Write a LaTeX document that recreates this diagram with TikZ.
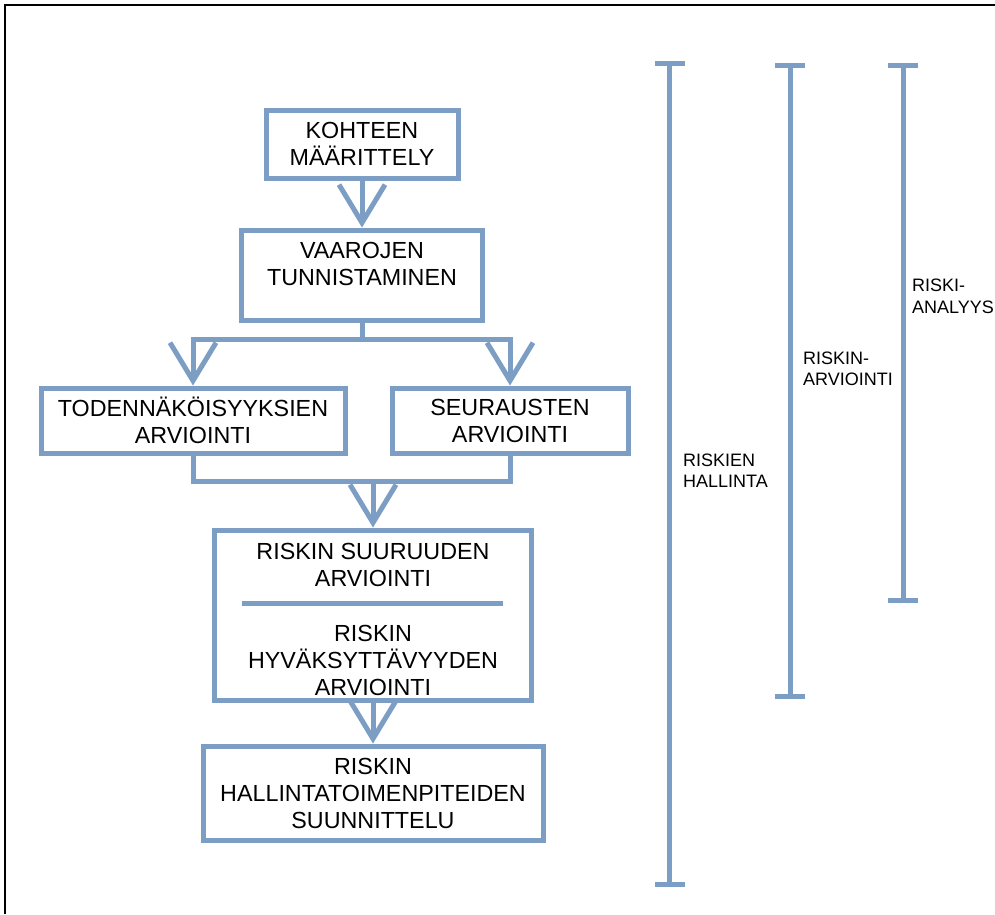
\documentclass[tikz,border=0pt]{standalone}
\usepackage{fontspec}
\setmainfont{Liberation Sans}
\usetikzlibrary{positioning, arrows.meta}
\definecolor{steel}{RGB}{124,157,196}
\tikzset{
  box/.style={
    draw=steel, line width=5pt, inner sep=0pt, align=center,
    font=\fontsize{23.3}{27}\selectfont
  },
  boxtext/.style={inner sep=0pt, align=center, font=\fontsize{23.3}{27}\selectfont},
  flow/.style={draw=steel, line width=5pt},
  arr/.style={flow, -{Straight Barb[length=38pt, width=46pt]}},
  span/.style={draw=steel, line width=5pt, {Bar[width=30pt]}-{Bar[width=30pt]}},
  side/.style={align=left, inner sep=0pt, anchor=west, font=\fontsize{18}{21.5}\selectfont}
}

\begin{document}
\begin{tikzpicture}[x=1pt, y=-1pt]
  \useasboundingbox (0,0) rectangle (995,914);
  % frame
  \draw[line width=2.5pt] (5,914) -- (5,5) -- (995,5);

  % process boxes
  \node[box, minimum width=192, minimum height=68] (target) at (362,144) {KOHTEEN\\MÄÄRITTELY};
  \node[box, minimum width=241, minimum height=90] (hazard) at (362,275) {};
  \node[boxtext] at ([yshift=11]hazard.center) {VAAROJEN\\TUNNISTAMINEN};
  \node[box, minimum width=304, minimum height=65] (prob) at (193,420.5) {TODENNÄKÖISYYKSIEN\\ARVIOINTI};
  \node[box, minimum width=236, minimum height=65] (cons) at (510,420.5) {SEURAUSTEN\\ARVIOINTI};
  \node[box, minimum width=317, minimum height=170] (risk) at (373,615) {};
  \node[boxtext] (size) at ([yshift=50.5]risk.center) {RISKIN SUURUUDEN\\ARVIOINTI};
  \node[boxtext] (accept) at ([yshift=-45]risk.center) {RISKIN\\HYVÄKSYTTÄVYYDEN\\ARVIOINTI};
  \node[box, minimum width=340, minimum height=94] (control) at (373,793) {RISKIN\\HALLINTATOIMENPITEIDEN\\SUUNNITTELU};

  % connectors
  \coordinate (split) at (362,339);
  \coordinate (merge) at (373,481);
  \draw[arr] (target) -- (hazard);
  \draw[flow] (hazard.south) -- (split);
  \draw[arr] (split) -| (prob.north);
  \draw[arr] (split) -| (cons.north);
  \draw[flow] (prob.south) |- (merge) -| (cons.south);
  \draw[arr] (merge) -- (risk.north);
  \draw[flow] (242,603) -- (503,603);
  \draw[arr] (risk) -- (control);

  % spans
  \coordinate (mgmtTop) at (669.5,61);
  \coordinate (mgmtBot) at (669.5,887);
  \coordinate (evalTop) at (790,63);
  \coordinate (evalBot) at (790,699);
  \coordinate (anaTop) at (903,63);
  \coordinate (anaBot) at (903,603);
  \draw[span] (mgmtTop) -- (mgmtBot);
  \draw[span] (evalTop) -- (evalBot);
  \draw[span] (anaTop) -- (anaBot);

  \node[side] (mgmt) at (683,470.5) {RISKIEN\\HALLINTA};
  \node[side] (eval) at (803,369) {RISKIN-\\ARVIOINTI};
  \node[side] (ana) at (912,296.5) {RISKI-\\ANALYYS};
\end{tikzpicture}
\end{document}
